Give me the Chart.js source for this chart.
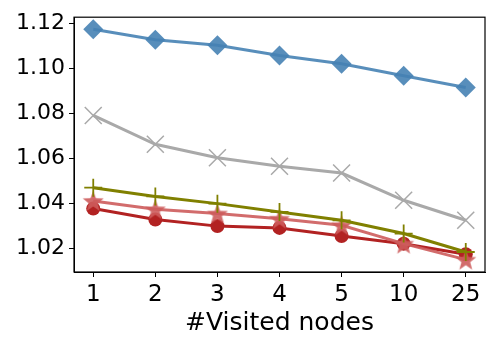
<!DOCTYPE html>
<html>
<head>
<meta charset="utf-8">
<script src="https://cdn.jsdelivr.net/npm/chart.js@4"></script>
<style>
  html, body { margin: 0; padding: 0; background: #fff; }
  #wrap { width: 500px; height: 350px; }
</style>
</head>
<body>
<div id="wrap"><canvas id="chart" width="500" height="350"></canvas></div>
<script>
// x categories and y ticks
const xLabels = ['1', '2', '3', '4', '5', '10', '25'];
const yTicks = [1.02, 1.04, 1.06, 1.08, 1.10, 1.12];

// series
const blueDiamond = [1.1175, 1.1129, 1.1104, 1.1059, 1.1022, 1.0969, 1.0916];
const grayCross = [1.0792, 1.0664, 1.0604, 1.0566, 1.0536, 1.0415, 1.0326];
const olivePlus = [1.0471, 1.0432, 1.0400, 1.0363, 1.0326, 1.0267, 1.0185];
const redStar = [1.0412, 1.0375, 1.0356, 1.0333, 1.0304, 1.0222, 1.0151];
const redCircle = [1.0378, 1.0329, 1.0300, 1.0292, 1.0256, 1.0222, 1.0175];

function toPoints(arr) {
    return arr.map((v, i) => ({ x: i + 1, y: v }));
}

// filled star marker, Chart.js only has an outline one
function makeStar(size, color) {
    const c = document.createElement('canvas');
    c.width = size;
    c.height = size;
    const ctx = c.getContext('2d');
    const cx = size / 2, cy = size / 2 + 1;
    const outer = size / 2, inner = outer * 0.42;
    ctx.beginPath();
    for (let k = 0; k < 10; k++) {
        const r = k % 2 === 0 ? outer : inner;
        const a = -Math.PI / 2 + k * Math.PI / 5;
        const px = cx + r * Math.cos(a), py = cy + r * Math.sin(a);
        if (k === 0) ctx.moveTo(px, py); else ctx.lineTo(px, py);
    }
    ctx.closePath();
    ctx.fillStyle = color;
    ctx.fill();
    return c;
}

const starImg = makeStar(22, 'rgba(205, 92, 92, 0.9)');

// black frame around the plot area
const frame = {
    id: 'frame',
    afterDraw(chart) {
        const a = chart.chartArea;
        const ctx = chart.ctx;
        ctx.save();
        ctx.strokeStyle = '#000';
        ctx.lineWidth = 1.2;
        ctx.strokeRect(a.left, a.top, a.right - a.left, a.bottom - a.top);
        ctx.restore();
    }
};

new Chart(document.getElementById('chart'), {
    type: 'line',
    data: {
        datasets: [
            {
                data: toPoints(blueDiamond),
                borderColor: 'rgba(70, 130, 180, 0.9)',
                backgroundColor: 'rgba(70, 130, 180, 0.9)',
                borderWidth: 3,
                pointStyle: 'rectRot',
                pointRadius: 10,
                pointBorderWidth: 0
            },
            {
                data: toPoints(grayCross),
                borderColor: '#a9a9a9',
                backgroundColor: '#a9a9a9',
                borderWidth: 3,
                pointStyle: 'crossRot',
                pointRadius: 12,
                pointBorderWidth: 1.5
            },
            {
                data: toPoints(olivePlus),
                borderColor: '#808000',
                backgroundColor: '#808000',
                borderWidth: 3,
                pointStyle: 'cross',
                pointRadius: 9,
                pointBorderWidth: 1.8
            },
            {
                data: toPoints(redStar),
                borderColor: 'rgba(205, 92, 92, 0.9)',
                backgroundColor: 'rgba(205, 92, 92, 0.9)',
                borderWidth: 3,
                pointStyle: starImg,
                pointRadius: 11
            },
            {
                data: toPoints(redCircle),
                borderColor: '#b22222',
                backgroundColor: '#b22222',
                borderWidth: 3,
                pointStyle: 'circle',
                pointRadius: 7,
                pointBorderWidth: 0
            }
        ]
    },
    options: {
        responsive: false,
        animation: false,
        layout: { padding: { left: 15, top: 17, right: 15, bottom: 0 } },
        plugins: {
            legend: { display: false },
            tooltip: { enabled: false }
        },
        scales: {
            x: {
                type: 'linear',
                min: 0.69,
                max: 7.31,
                afterBuildTicks: (scale) => {
                    scale.ticks = xLabels.map((_, i) => ({ value: i + 1 }));
                },
                afterFit: (scale) => { scale.height = 78; },
                grid: { drawOnChartArea: false, drawTicks: true, tickLength: 5, color: '#000' },
                border: { display: true, color: '#000' },
                ticks: {
                    font: { family: 'DejaVu Sans', size: 23 },
                    color: '#000',
                    padding: 4,
                    maxRotation: 0,
                    callback: (v) => xLabels[Math.round(v) - 1]
                },
                title: {
                    display: true,
                    text: '#Visited nodes',
                    font: { family: 'DejaVu Sans', size: 25 },
                    color: '#000',
                    padding: { top: 0, bottom: 12 }
                }
            },
            y: {
                min: 1.0096,
                max: 1.1229,
                afterBuildTicks: (scale) => {
                    scale.ticks = yTicks.map(v => ({ value: v }));
                },
                afterFit: (scale) => { scale.width = 59; },
                grid: { drawOnChartArea: false, drawTicks: true, tickLength: 5, color: '#000' },
                border: { display: true, color: '#000' },
                ticks: {
                    font: { family: 'DejaVu Sans', size: 22 },
                    color: '#000',
                    padding: 4,
                    callback: (v) => v.toFixed(2)
                }
            }
        }
    },
    plugins: [frame]
});
</script>
</body>
</html>
